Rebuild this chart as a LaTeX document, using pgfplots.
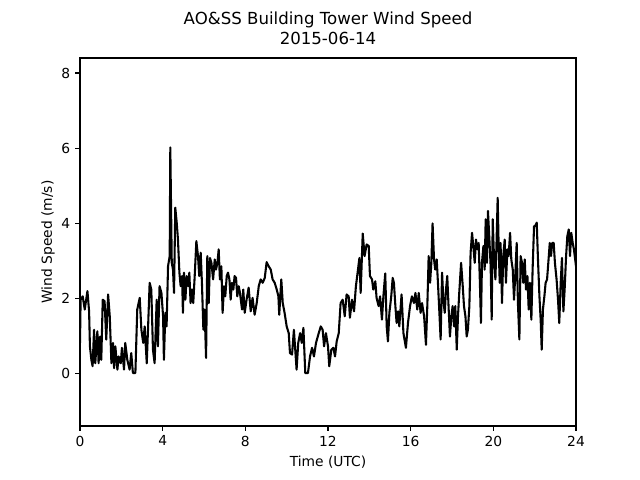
\documentclass[border=0pt]{standalone}
\usepackage{pgfplots}
\pgfplotsset{compat=1.18}
\usepackage{fontspec}
\setmainfont{DejaVu Sans}
\begin{document}
\begin{tikzpicture}
\path[use as bounding box] (0,0) rectangle (6.4in,4.8in);
\begin{axis}[
  at={(0.8in,0.54in)}, anchor=south west,
  width=4.96in, height=3.68in, scale only axis,
  xmin=0, xmax=24, ymin=-1.39, ymax=8.4,
  xtick={0,4,8,12,16,20,24}, ytick={0,2,4,6,8},
  tick align=outside, tick pos=left,
  major tick length=3.5pt,
  axis line style={line width=0.8pt},
  every tick/.style={line width=0.8pt, black},
  tick label style={font=\fontsize{10}{12}\selectfont},
  /pgf/number format/assume math mode=true,
  xlabel={Time (UTC)}, ylabel={Wind Speed (m/s)},
  label style={font=\fontsize{10}{12}\selectfont},
  ylabel style={xshift=0pt, yshift=-2pt},
  title={AO\&SS Building Tower Wind Speed\\2015-06-14},
  title style={align=center, font=\fontsize{12}{14.4}\selectfont, yshift=0pt},
]
\addplot[black, line width=1.5pt, line join=round] coordinates {
(0.00,0.82)(0.03,1.97)(0.13,2.06)(0.23,1.71)(0.36,2.20)(0.44,1.66)(0.48,0.73)(0.55,0.37)
(0.61,0.20)(0.68,1.17)(0.74,0.28)(0.84,1.13)(0.90,0.28)(0.97,0.99)(1.03,0.37)(1.10,1.97)
(1.19,1.93)(1.27,0.91)(1.36,2.11)(1.44,1.53)(1.52,0.28)(1.60,0.82)(1.65,0.15)(1.71,0.73)
(1.81,0.11)(1.87,0.46)(1.97,0.28)(2.03,0.69)(2.13,0.11)(2.19,0.82)(2.29,0.37)(2.40,0.11)
(2.48,0.55)(2.56,0.02)(2.68,0.02)(2.77,1.71)(2.89,2.02)(2.97,1.17)(3.06,0.82)(3.13,1.26)
(3.23,0.28)(3.29,1.17)(3.37,2.42)(3.45,2.24)(3.53,0.64)(3.61,0.28)(3.71,1.97)(3.77,0.73)
(3.85,2.33)(3.94,2.15)(4.02,1.53)(4.06,0.37)(4.13,1.62)(4.19,1.26)(4.26,2.86)(4.34,3.13)
(4.37,6.02)(4.44,2.95)(4.50,2.77)(4.55,2.15)(4.61,4.42)(4.68,4.02)(4.74,3.57)(4.81,2.69)
(4.87,2.33)(4.94,2.60)(4.98,1.62)(5.03,2.69)(5.10,1.97)(5.16,2.60)(5.23,2.33)(5.29,2.69)
(5.35,1.88)(5.42,2.24)(5.48,1.88)(5.55,2.60)(5.63,3.53)(5.71,3.13)(5.77,2.60)(5.84,3.22)
(5.90,2.42)(5.97,1.17)(6.03,1.71)(6.10,0.42)(6.16,3.13)(6.23,1.88)(6.29,3.08)(6.36,2.95)
(6.44,2.51)(6.52,3.04)(6.58,2.77)(6.65,2.95)(6.71,3.31)(6.77,2.51)(6.84,2.86)(6.90,1.62)
(6.97,2.33)(7.03,2.06)(7.10,2.60)(7.16,2.69)(7.23,2.51)(7.29,1.97)(7.35,2.42)(7.42,2.24)
(7.48,2.60)(7.55,2.55)(7.61,2.06)(7.68,2.33)(7.74,2.15)(7.84,1.71)(7.90,2.24)(7.97,1.62)
(8.06,1.97)(8.16,2.29)(8.26,1.66)(8.35,2.02)(8.45,1.57)(8.55,1.88)(8.65,2.33)(8.74,2.51)
(8.84,2.42)(8.94,2.55)(9.03,2.97)(9.13,2.86)(9.23,2.77)(9.32,2.51)(9.42,2.42)(9.52,2.24)
(9.60,2.06)(9.64,1.57)(9.74,2.51)(9.81,1.88)(9.90,1.62)(10.00,1.26)(10.10,1.08)(10.16,0.55)
(10.26,0.51)(10.35,1.17)(10.48,0.11)(10.56,0.82)(10.65,1.08)(10.73,0.82)(10.81,1.22)(10.90,0.02)
(11.03,0.02)(11.13,0.46)(11.23,0.69)(11.32,0.46)(11.42,0.82)(11.53,1.04)(11.65,1.26)(11.74,1.17)
(11.81,0.73)(11.90,1.08)(12.00,0.73)(12.06,0.20)(12.16,0.64)(12.26,0.69)(12.34,0.46)(12.42,0.86)
(12.52,1.08)(12.61,1.88)(12.71,1.97)(12.81,1.53)(12.90,2.11)(13.00,2.06)(13.06,1.49)(13.16,1.97)
(13.26,1.66)(13.35,2.33)(13.45,2.77)(13.52,3.08)(13.58,2.15)(13.68,3.73)(13.77,3.13)(13.87,3.44)
(13.97,3.40)(14.03,2.60)(14.13,2.51)(14.19,2.24)(14.29,2.46)(14.35,2.02)(14.45,1.80)(14.52,2.06)
(14.61,1.44)(14.68,2.06)(14.77,2.67)(14.84,1.26)(14.90,0.86)(14.97,1.62)(15.06,2.06)(15.13,2.55)
(15.19,2.42)(15.26,1.80)(15.32,1.35)(15.39,1.66)(15.45,1.26)(15.56,2.11)(15.65,1.08)(15.77,0.69)
(15.87,1.35)(15.97,1.80)(16.06,2.06)(16.16,1.88)(16.23,2.15)(16.32,1.71)(16.39,2.15)(16.48,1.62)
(16.55,1.88)(16.65,1.53)(16.74,0.77)(16.81,1.88)(16.87,3.13)(16.94,2.42)(17.00,2.95)(17.06,4.00)
(17.13,3.04)(17.19,2.77)(17.26,3.04)(17.32,2.42)(17.39,1.62)(17.45,0.91)(17.52,2.69)(17.58,1.97)
(17.65,1.62)(17.71,2.24)(17.77,2.60)(17.84,1.71)(17.90,0.99)(17.97,1.53)(18.03,1.80)(18.10,1.26)
(18.16,1.80)(18.23,0.64)(18.29,1.53)(18.35,2.15)(18.44,2.95)(18.52,2.33)(18.58,1.80)(18.65,1.53)
(18.71,0.99)(18.77,1.17)(18.84,1.80)(18.90,3.22)(18.97,3.75)(19.03,3.40)(19.10,2.95)(19.16,3.57)
(19.23,3.31)(19.29,3.48)(19.35,2.42)(19.40,1.35)(19.45,2.95)(19.52,3.40)(19.58,2.77)(19.63,4.11)
(19.69,2.95)(19.74,4.33)(19.81,3.57)(19.87,2.86)(19.92,1.44)(19.97,4.11)(20.03,3.13)(20.10,2.51)
(20.15,3.40)(20.21,4.68)(20.26,3.31)(20.31,2.42)(20.35,3.48)(20.42,1.88)(20.48,3.13)(20.55,3.57)
(20.61,2.42)(20.68,3.31)(20.74,3.13)(20.81,3.75)(20.87,3.04)(20.94,2.77)(21.00,1.97)(21.06,2.60)
(21.13,3.48)(21.19,1.88)(21.26,0.91)(21.32,3.13)(21.39,2.95)(21.45,2.42)(21.52,3.04)(21.58,2.24)
(21.65,2.60)(21.71,1.71)(21.77,2.42)(21.84,1.44)(21.90,2.77)(21.97,3.93)(22.03,3.93)(22.10,4.02)
(22.16,3.04)(22.23,2.06)(22.29,1.44)(22.34,0.64)(22.40,1.71)(22.47,2.06)(22.53,2.42)(22.60,2.51)
(22.66,2.95)(22.73,3.48)(22.79,3.13)(22.85,3.48)(22.92,3.48)(22.98,2.95)(23.06,2.51)(23.13,1.97)
(23.19,1.35)(23.26,2.42)(23.32,3.08)(23.39,1.66)(23.45,2.24)(23.52,3.13)(23.58,3.66)(23.65,3.84)
(23.71,3.13)(23.77,3.75)(23.84,3.48)(23.90,3.31)(24.00,2.86)
};
\end{axis}
\end{tikzpicture}
\end{document}
